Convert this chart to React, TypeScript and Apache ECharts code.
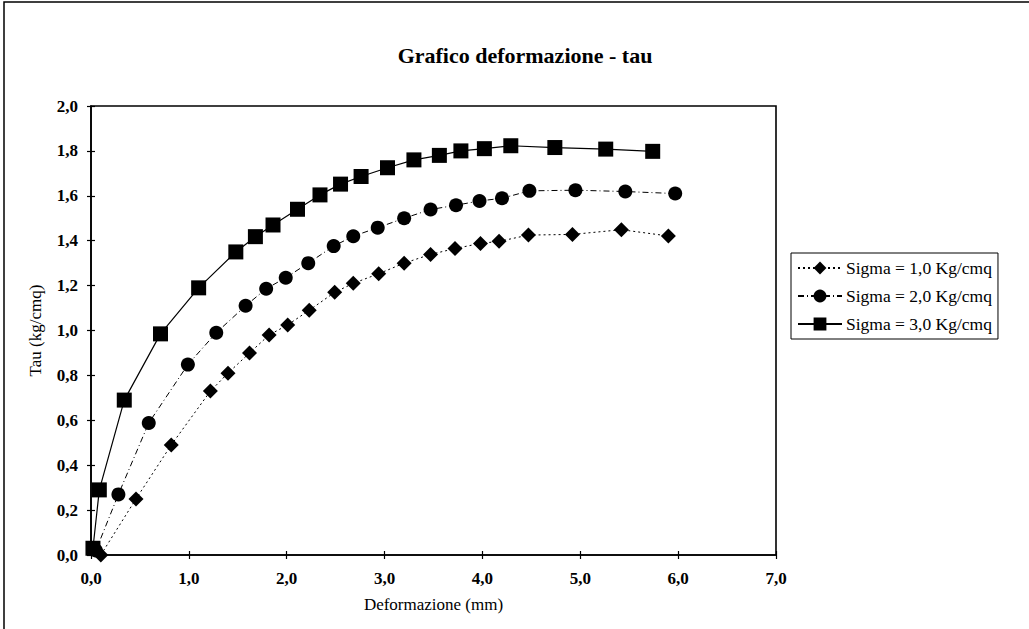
import React, { useEffect, useRef } from "react";
import * as echarts from "echarts";

const seriesNames = ["Sigma = 1,0 Kg/cmq", "Sigma = 2,0 Kg/cmq", "Sigma = 3,0 Kg/cmq"];

const sigma1X = [0.1, 0.46, 0.82, 1.22, 1.4, 1.62, 1.82, 2.01, 2.23, 2.49, 2.68, 2.94, 3.2, 3.47, 3.72, 3.98, 4.17, 4.47, 4.92, 5.42, 5.9];
const sigma1Y = [0.0, 0.25, 0.49, 0.73, 0.81, 0.9, 0.98, 1.025, 1.09, 1.17, 1.21, 1.253, 1.3, 1.339, 1.365, 1.388, 1.397, 1.425, 1.428, 1.449, 1.421];

const sigma2X = [0.05, 0.28, 0.59, 0.99, 1.28, 1.58, 1.79, 1.99, 2.22, 2.48, 2.68, 2.93, 3.2, 3.47, 3.73, 3.97, 4.2, 4.48, 4.95, 5.46, 5.97];
const sigma2Y = [0.02, 0.27, 0.588, 0.848, 0.99, 1.11, 1.186, 1.235, 1.3, 1.376, 1.42, 1.458, 1.5, 1.539, 1.558, 1.577, 1.589, 1.622, 1.625, 1.619, 1.61];

const sigma3X = [0.02, 0.085, 0.34, 0.71, 1.1, 1.48, 1.68, 1.86, 2.11, 2.34, 2.55, 2.76, 3.03, 3.3, 3.56, 3.78, 4.02, 4.29, 4.74, 5.26, 5.74];
const sigma3Y = [0.03, 0.29, 0.69, 0.985, 1.19, 1.35, 1.418, 1.47, 1.54, 1.604, 1.652, 1.686, 1.725, 1.76, 1.78, 1.8, 1.81, 1.823, 1.815, 1.808, 1.798];

const fmt = (v: number) => v.toFixed(1).replace(".", ",");

const FONT = "Liberation Serif";

export default function App() {
  const ref = useRef<HTMLDivElement>(null);
  useEffect(() => {
    document.body.style.margin = "0";
    const chart = echarts.init(ref.current!, null, { renderer: "svg" });
    const zip = (xs: number[], ys: number[]) => xs.map((x, i) => [x, ys[i]]);
    const axisCommon = {
      type: "value" as const,
      splitLine: { show: false },
      axisLine: { show: true, lineStyle: { color: "#000", width: 1.6 } },
      axisTick: { show: true, length: 4, lineStyle: { color: "#000", width: 1.2 } },
    };
    const innerTick = { show: true, inside: true, length: 4, lineStyle: { color: "#000", width: 1.2 } };
    chart.setOption({
      animation: false,
      backgroundColor: "#fff",
      textStyle: { fontFamily: FONT, color: "#000" },
      title: {
        text: "Grafico deformazione - tau",
        left: 520,
        textAlign: "center",
        top: 39,
        textStyle: { fontFamily: FONT, fontWeight: "bold", fontSize: 22, color: "#000" },
      },
      graphic: [
        {
          type: "rect",
          shape: { x: 4, y: 2, width: 1100, height: 700 },
          style: { fill: "none", stroke: "#000", lineWidth: 1.5 },
          silent: true,
        },
      ],
      grid: {
        left: 91,
        right: 253,
        top: 106,
        bottom: 74,
        show: true,
        borderColor: "#000",
        borderWidth: 1.6,
      },
      legend: {
        left: 791,
        top: 253,
        orient: "vertical",
        itemGap: 10,
        itemWidth: 44,
        itemHeight: 16,
        padding: [6, 6, 6, 6],
        borderColor: "#000",
        borderWidth: 1,
        textStyle: { fontFamily: FONT, fontSize: 17.5, color: "#000", padding: [0, 0, 0, -1] },
        data: seriesNames,
      },
      xAxis: [
        {
          ...axisCommon,
          min: 0,
          max: 7,
          interval: 1,
          name: "Deformazione (mm)",
          nameLocation: "middle",
          nameGap: 41,
          nameTextStyle: { fontFamily: FONT, fontSize: 17, color: "#000" },
          axisLabel: { formatter: fmt, fontFamily: FONT, fontSize: 17, color: "#000", fontWeight: "bold", margin: 15 },
        },
        {
          ...axisCommon,
          min: 0,
          max: 7,
          interval: 1,
          position: "bottom",
          axisLine: { show: false },
          axisTick: innerTick,
          axisLabel: { show: false },
        },
      ],
      yAxis: [
        {
          ...axisCommon,
          min: 0,
          max: 2,
          interval: 0.2,
          name: "Tau (kg/cmq)",
          nameLocation: "middle",
          nameGap: 47,
          nameTextStyle: { fontFamily: FONT, fontSize: 17, color: "#000" },
          axisLabel: { formatter: fmt, fontFamily: FONT, fontSize: 17, color: "#000", fontWeight: "bold", margin: 13 },
        },
        {
          ...axisCommon,
          min: 0,
          max: 2,
          interval: 0.2,
          position: "left",
          axisLine: { show: false },
          axisTick: innerTick,
          axisLabel: { show: false },
        },
      ],
      series: [
        {
          name: seriesNames[0],
          type: "line",
          data: zip(sigma1X, sigma1Y),
          symbol: "diamond",
          symbolSize: 15,
          itemStyle: { color: "#000" },
          lineStyle: { color: "#000", width: 1, type: [2, 3] },
        },
        {
          name: seriesNames[1],
          type: "line",
          data: zip(sigma2X, sigma2Y),
          symbol: "circle",
          symbolSize: 14,
          itemStyle: { color: "#000" },
          lineStyle: { color: "#000", width: 1, type: [6, 3, 1, 3] },
        },
        {
          name: seriesNames[2],
          type: "line",
          data: zip(sigma3X, sigma3Y),
          symbol: "rect",
          symbolSize: 15,
          itemStyle: { color: "#000" },
          lineStyle: { color: "#000", width: 1.2, type: "solid" },
        },
      ],
    });
    return () => chart.dispose();
  }, []);
  return <div ref={ref} style={{ position: "absolute", left: 0, top: 0, width: 1029, height: 629 }} />;
}
